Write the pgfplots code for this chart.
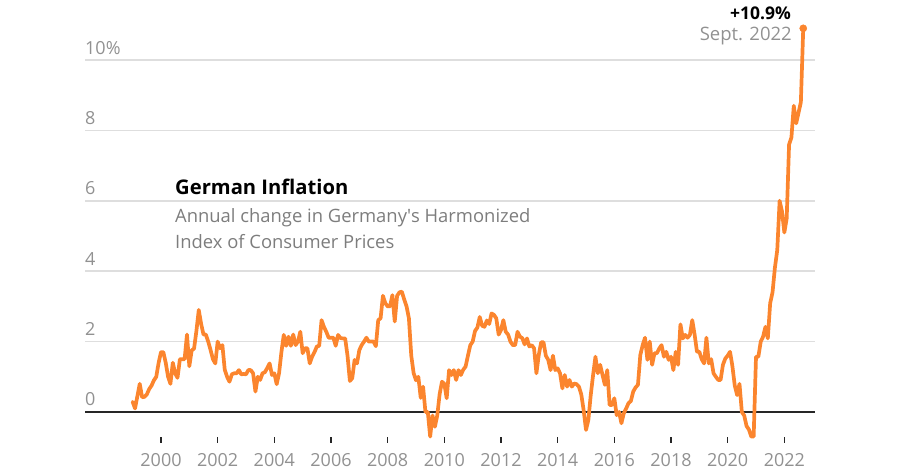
\documentclass[border=0pt]{standalone}
\usepackage{pgfplots}
\pgfplotsset{compat=1.18}
\usepackage{pgfplotstable}
\usepackage{fontspec}
\setmainfont{Open Sans}
\definecolor{lineorange}{RGB}{251,133,46}
\definecolor{gridgray}{RGB}{222,222,222}
\definecolor{labelgray}{RGB}{145,145,145}
\definecolor{subgray}{RGB}{125,125,125}
\pgfplotstableread[row sep=\\]{
t v \\
1999.000 0.29 \\ 1999.083 0.10 \\ 1999.167 0.45 \\ 1999.250 0.80 \\ 1999.333 0.42 \\ 1999.417 0.43 \\ 1999.500 0.50 \\ 1999.583 0.65 \\ 1999.667 0.75 \\ 1999.750 0.90 \\ 1999.833 1.00 \\ 1999.917 1.40 \\
2000.000 1.70 \\ 2000.083 1.70 \\ 2000.167 1.40 \\ 2000.250 1.00 \\ 2000.333 0.80 \\ 2000.417 1.40 \\ 2000.500 1.10 \\ 2000.583 0.97 \\ 2000.667 1.50 \\ 2000.750 1.50 \\ 2000.833 1.50 \\ 2000.917 2.20 \\
2001.000 1.30 \\ 2001.083 1.75 \\ 2001.167 1.80 \\ 2001.250 2.30 \\ 2001.333 2.90 \\ 2001.417 2.50 \\ 2001.500 2.20 \\ 2001.583 2.20 \\ 2001.667 2.00 \\ 2001.750 1.76 \\ 2001.833 1.50 \\ 2001.917 1.38 \\
2002.000 2.00 \\ 2002.083 1.81 \\ 2002.167 1.90 \\ 2002.250 1.20 \\ 2002.333 1.00 \\ 2002.417 0.86 \\ 2002.500 1.07 \\ 2002.583 1.10 \\ 2002.667 1.10 \\ 2002.750 1.19 \\ 2002.833 1.07 \\ 2002.917 1.08 \\
2003.000 1.07 \\ 2003.083 1.19 \\ 2003.167 1.19 \\ 2003.250 1.10 \\ 2003.333 0.58 \\ 2003.417 1.00 \\ 2003.500 0.91 \\ 2003.583 1.10 \\ 2003.667 1.13 \\ 2003.750 1.25 \\ 2003.833 1.38 \\ 2003.917 1.05 \\
2004.000 1.10 \\ 2004.083 0.79 \\ 2004.167 1.10 \\ 2004.250 1.70 \\ 2004.333 2.19 \\ 2004.417 1.88 \\ 2004.500 2.14 \\ 2004.583 1.88 \\ 2004.667 2.20 \\ 2004.750 1.90 \\ 2004.833 2.00 \\ 2004.917 2.28 \\
2005.000 1.67 \\ 2005.083 1.81 \\ 2005.167 1.81 \\ 2005.250 1.38 \\ 2005.333 1.57 \\ 2005.417 1.70 \\ 2005.500 1.86 \\ 2005.583 1.88 \\ 2005.667 2.61 \\ 2005.750 2.42 \\ 2005.833 2.28 \\ 2005.917 2.11 \\
2006.000 2.11 \\ 2006.083 2.11 \\ 2006.167 1.88 \\ 2006.250 2.19 \\ 2006.333 2.10 \\ 2006.417 2.09 \\ 2006.500 2.09 \\ 2006.583 1.60 \\ 2006.667 0.88 \\ 2006.750 0.96 \\ 2006.833 1.48 \\ 2006.917 1.38 \\
2007.000 1.76 \\ 2007.083 1.90 \\ 2007.167 2.00 \\ 2007.250 2.11 \\ 2007.333 2.00 \\ 2007.417 2.00 \\ 2007.500 2.00 \\ 2007.583 1.87 \\ 2007.667 2.61 \\ 2007.750 2.66 \\ 2007.833 3.30 \\ 2007.917 3.09 \\
2008.000 3.00 \\ 2008.083 3.00 \\ 2008.167 3.32 \\ 2008.250 2.57 \\ 2008.333 3.30 \\ 2008.417 3.40 \\ 2008.500 3.42 \\ 2008.583 3.20 \\ 2008.667 3.00 \\ 2008.750 2.66 \\ 2008.833 1.60 \\ 2008.917 1.10 \\
2009.000 0.90 \\ 2009.083 1.00 \\ 2009.167 0.40 \\ 2009.250 0.72 \\ 2009.333 0.00 \\ 2009.417 0.00 \\ 2009.500 -0.70 \\ 2009.583 -0.10 \\ 2009.667 -0.42 \\ 2009.750 -0.10 \\ 2009.833 0.50 \\ 2009.917 0.86 \\
2010.000 0.80 \\ 2010.083 0.39 \\ 2010.167 1.19 \\ 2010.250 1.05 \\ 2010.333 1.19 \\ 2010.417 0.91 \\ 2010.500 1.19 \\ 2010.583 1.05 \\ 2010.667 1.20 \\ 2010.750 1.29 \\ 2010.833 1.60 \\ 2010.917 1.90 \\
2011.000 2.00 \\ 2011.083 2.30 \\ 2011.167 2.40 \\ 2011.250 2.70 \\ 2011.333 2.45 \\ 2011.417 2.42 \\ 2011.500 2.60 \\ 2011.583 2.50 \\ 2011.667 2.80 \\ 2011.750 2.76 \\ 2011.833 2.66 \\ 2011.917 2.20 \\
2012.000 2.33 \\ 2012.083 2.61 \\ 2012.167 2.28 \\ 2012.250 2.20 \\ 2012.333 2.00 \\ 2012.417 1.90 \\ 2012.500 1.90 \\ 2012.583 2.28 \\ 2012.667 2.14 \\ 2012.750 2.10 \\ 2012.833 1.92 \\ 2012.917 2.09 \\
2013.000 1.86 \\ 2013.083 1.90 \\ 2013.167 1.81 \\ 2013.250 1.10 \\ 2013.333 1.62 \\ 2013.417 1.98 \\ 2013.500 1.98 \\ 2013.583 1.60 \\ 2013.667 1.48 \\ 2013.750 1.19 \\ 2013.833 1.60 \\ 2013.917 1.19 \\
2014.000 1.24 \\ 2014.083 1.10 \\ 2014.167 0.67 \\ 2014.250 1.05 \\ 2014.333 0.72 \\ 2014.417 0.91 \\ 2014.500 0.72 \\ 2014.583 0.81 \\ 2014.667 0.79 \\ 2014.750 0.72 \\ 2014.833 0.50 \\ 2014.917 0.05 \\
2015.000 -0.51 \\ 2015.083 -0.23 \\ 2015.167 0.48 \\ 2015.250 1.05 \\ 2015.333 1.57 \\ 2015.417 1.10 \\ 2015.500 1.34 \\ 2015.583 1.05 \\ 2015.667 0.77 \\ 2015.750 1.19 \\ 2015.833 0.20 \\ 2015.917 0.20 \\
2016.000 0.39 \\ 2016.083 -0.09 \\ 2016.167 0.00 \\ 2016.250 -0.32 \\ 2016.333 -0.04 \\ 2016.417 0.10 \\ 2016.500 0.25 \\ 2016.583 0.31 \\ 2016.667 0.58 \\ 2016.750 0.70 \\ 2016.833 0.77 \\ 2016.917 1.62 \\
2017.000 1.90 \\ 2017.083 2.11 \\ 2017.167 1.48 \\ 2017.250 2.00 \\ 2017.333 1.34 \\ 2017.417 1.67 \\ 2017.500 1.67 \\ 2017.583 1.80 \\ 2017.667 1.90 \\ 2017.750 1.57 \\ 2017.833 1.71 \\ 2017.917 1.48 \\
2018.000 1.57 \\ 2018.083 1.19 \\ 2018.167 1.71 \\ 2018.250 1.34 \\ 2018.333 2.49 \\ 2018.417 2.09 \\ 2018.500 2.19 \\ 2018.583 2.11 \\ 2018.667 2.19 \\ 2018.750 2.61 \\ 2018.833 2.20 \\ 2018.917 1.71 \\
2019.000 1.71 \\ 2019.083 1.50 \\ 2019.167 1.38 \\ 2019.250 2.11 \\ 2019.333 1.38 \\ 2019.417 1.50 \\ 2019.500 1.10 \\ 2019.583 1.00 \\ 2019.667 0.91 \\ 2019.750 0.91 \\ 2019.833 1.34 \\ 2019.917 1.52 \\
2020.000 1.60 \\ 2020.083 1.71 \\ 2020.167 1.30 \\ 2020.250 0.75 \\ 2020.333 0.48 \\ 2020.417 0.80 \\ 2020.500 0.00 \\ 2020.583 -0.10 \\ 2020.667 -0.40 \\ 2020.750 -0.50 \\ 2020.833 -0.70 \\ 2020.917 -0.70 \\
2021.000 1.57 \\ 2021.083 1.57 \\ 2021.167 2.00 \\ 2021.250 2.14 \\ 2021.333 2.42 \\ 2021.417 2.09 \\ 2021.500 3.09 \\ 2021.583 3.40 \\ 2021.667 4.10 \\ 2021.750 4.60 \\ 2021.833 6.00 \\ 2021.917 5.70 \\
2022.000 5.10 \\ 2022.083 5.50 \\ 2022.167 7.60 \\ 2022.250 7.80 \\ 2022.333 8.70 \\ 2022.417 8.20 \\ 2022.500 8.50 \\ 2022.583 8.80 \\ 2022.667 10.90 \\
}\hicp
\begin{document}
\begin{tikzpicture}[x=1pt,y=1pt]
\begin{axis}[
  at={(85pt,27pt)}, anchor=south west,
  width=730pt, height=443pt, scale only axis,
  xmin=1997.318, xmax=2023.082,
  ymin=-0.881, ymax=11.705,
  axis line style={draw=none},
  xtick={2000,2002,...,2022},
  xticklabels={2000,2002,2004,2006,2008,2010,2012,2014,2016,2018,2020,2022},
  ytick={0,2,4,6,8,10},
  yticklabels={0,2,4,6,8,10\%},
  ymajorgrids, major grid style={gridgray, line width=1.5pt},
  xtick pos=bottom, ytick pos=left,
  tick align=inside,
  major tick length=6pt,
  x tick style={color=black!85, line width=1.3pt},
  y tick style={draw=none},
  xticklabel style={font=\fontsize{18}{21}\selectfont, text=labelgray, anchor=base, yshift=-23.7pt, inner sep=0pt},
  yticklabel style={font=\fontsize{18}{21}\selectfont, text=labelgray, anchor=base west, inner sep=0pt, yshift=6pt},
  clip=false,
]
\draw[black!85, line width=1.5pt] (axis cs:1997.318,0) -- (axis cs:2023.082,0);
\addplot[lineorange, line width=3.7pt, line join=round, line cap=round] table[x=t, y=v] {\hicp};
\addplot[only marks, mark=*, mark size=3.6pt, lineorange] coordinates {(2022.667,10.90)};
\end{axis}
\node[anchor=base east, inner sep=0pt, font=\bfseries\fontsize{17.5}{20}\selectfont, text=black] at (791,450) {+10.9\%};
\node[anchor=base east, inner sep=0pt, font=\fontsize{18.5}{20}\selectfont, text=labelgray] at (792,429) {Sept. 2022};
\node[anchor=base west, inner sep=0pt, font=\bfseries\fontsize{20.2}{24}\selectfont, text=black] at (175,275) {German Inflation};
\node[anchor=base west, inner sep=0pt, font=\fontsize{18.4}{22}\selectfont, text=subgray] at (175,247.5) {Annual change in Germany\textquotesingle s Harmonized};
\node[anchor=base west, inner sep=0pt, font=\fontsize{18.4}{22}\selectfont, text=subgray] at (175,221.5) {Index of Consumer Prices};
\pgfresetboundingbox
\useasboundingbox (0,0) rectangle (900,470);
\end{tikzpicture}
\end{document}
